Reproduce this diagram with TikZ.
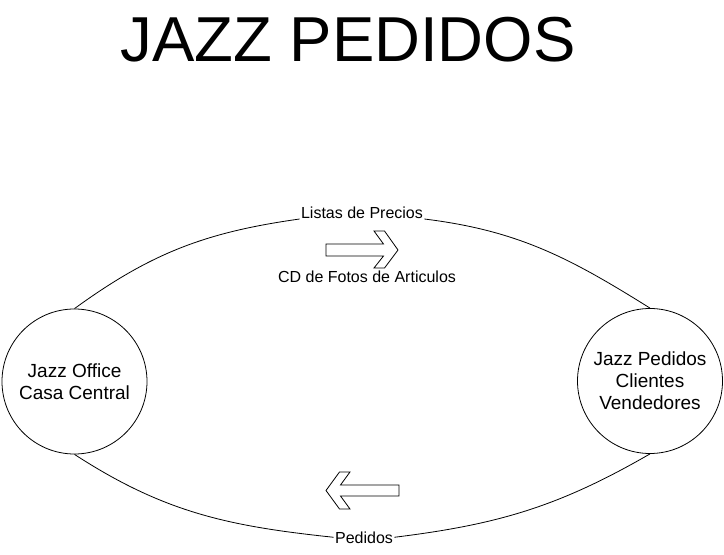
\documentclass[tikz,border=0pt]{standalone}
\usepackage{fontspec}
\setmainfont{Liberation Sans}

\begin{document}
\begin{tikzpicture}[
    x=1pt, y=1pt,
    line width=0.8pt,
    station/.style={circle, draw, minimum size=145pt, inner sep=0pt, align=center, font=\fontsize{19}{22}\selectfont},
    lbl/.style={inner sep=1pt, font=\fontsize{16}{19}\selectfont},
    blockarrow/.style={draw, line join=miter}
]
\useasboundingbox (0,0) rectangle (724,555);

% Title
\node[anchor=base, font=\fontsize{63.5}{70}\selectfont] (title) at (348,493) {JAZZ PEDIDOS};

% Nodes
\node[station] (office) at (74.5,173.5) {Jazz Office\\Casa Central};
\node[station] (clientes) at (650,174) {Jazz Pedidos\\Clientes\\Vendedores};
\node[lbl, anchor=base] (precios) at (362,336) {Listas de Precios};
\node[lbl, anchor=base] (fotos) at (367,272) {CD de Fotos de Articulos};
\node[lbl, anchor=base] (pedidos) at (364,12) {Pedidos};

% Paths
\draw (office.north) to[out=36,in=188] (precios.base west);
\draw (precios.base east) to[out=-7,in=148] (clientes.north);
\draw (office.south) to[out=-33,in=174] (pedidos.west);
\draw (pedidos.east) to[out=7,in=210] (clientes.south);

% Block arrows
\draw[blockarrow] (326,311) -- (383.5,311) -- (374,324) -- (384.5,324) -- (398,305)
    -- (384.5,287) -- (374,287) -- (383.5,299) -- (326,299) -- cycle;
\draw[blockarrow] (399,70) -- (340.5,70) -- (350,83) -- (339.5,83) -- (326,64.5)
    -- (339.5,46) -- (350,46) -- (340.5,59) -- (399,59) -- cycle;

\end{tikzpicture}
\end{document}
